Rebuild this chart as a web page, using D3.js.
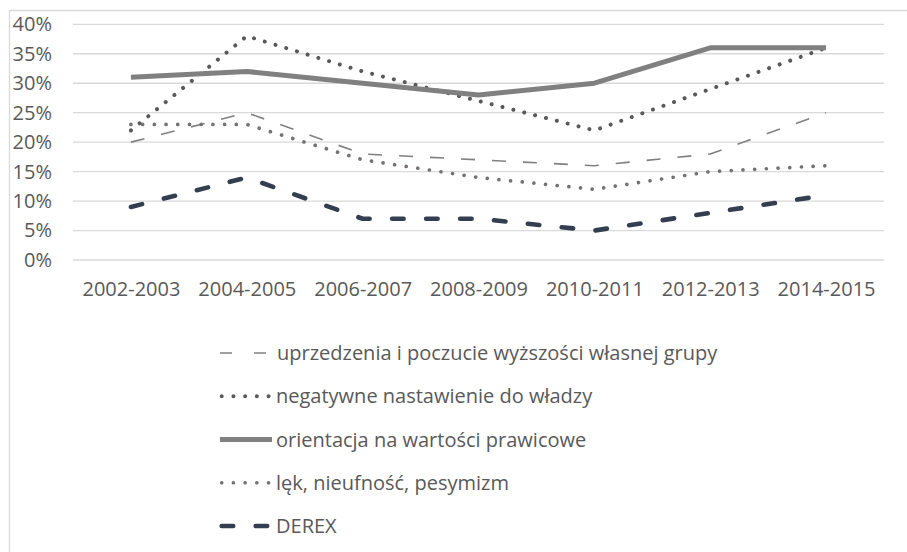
<!DOCTYPE html>
<html>
<head>
<meta charset="utf-8">
<script src="https://cdn.jsdelivr.net/npm/d3@7"></script>
<style>
  body { margin: 0; background: #fff; }
  text { font-family: "Open Sans", sans-serif; fill: #595959; }
</style>
</head>
<body>
<div id="chartdiv"></div>
<script>
var categories = ["2002-2003", "2004-2005", "2006-2007", "2008-2009", "2010-2011", "2012-2013", "2014-2015"];
var uprzedzenia = [20, 25, 18, 17, 16, 18, 25];
var negatywne = [22, 38, 32, 27, 22, 29, 36];
var orientacja = [31, 32, 30, 28, 30, 36, 36];
var lek = [23, 23, 17, 14, 12, 15, 16];
var derex = [9, 14, 7, 7, 5, 8, 11];
var yTicks = [0, 5, 10, 15, 20, 25, 30, 35, 40];

var seriesNames = [
  "uprzedzenia i poczucie wyższości własnej grupy",
  "negatywne nastawienie do władzy",
  "orientacja na wartości prawicowe",
  "lęk, nieufność, pesymizm",
  "DEREX"
];

// line styles per series (plot, legend)
var styles = [
  { color: "#808080", width: 1.6, dash: "14,17", legendDash: "12,22", cap: "butt" },
  { color: "#595959", width: 4, dash: "0.01,11.2", legendDash: "0.01,11.7", cap: "round" },
  { color: "#808080", width: 5, dash: null, legendDash: null, cap: "butt" },
  { color: "#767171", width: 3.7, dash: "0.01,11.7", legendDash: "0.01,11.7", cap: "round" },
  { color: "#333f50", width: 4.6, dash: "11.5,22.5", legendDash: "11.5,22.5", cap: "round" }
];

var allSeries = [uprzedzenia, negatywne, orientacja, lek, derex];

var W = 907, H = 552;
var plot = { left: 73, right: 884, top: 24.3, bottom: 260 };
var fontSize = "20px";

var svg = d3.select("#chartdiv").append("svg")
  .attr("width", W)
  .attr("height", H);

// chart frame (cut off at right and bottom)
svg.append("path")
  .attr("d", "M9.5," + H + "V10.5H" + W)
  .attr("fill", "none")
  .attr("stroke", "#d9d9d9")
  .attr("stroke-width", 1.3);

var x = d3.scalePoint()
  .domain(categories)
  .range([plot.left, plot.right])
  .padding(0.5);

var y = d3.scaleLinear()
  .domain([0, 40])
  .range([plot.bottom, plot.top]);

// gridlines
svg.append("g")
  .selectAll("line")
  .data(yTicks)
  .enter().append("line")
    .attr("x1", plot.left)
    .attr("x2", plot.right)
    .attr("y1", d => y(d))
    .attr("y2", d => y(d))
    .attr("stroke", "#d9d9d9")
    .attr("stroke-width", 1.3);

// y axis
var yAxis = svg.append("g")
  .attr("transform", "translate(" + plot.left + ",0)")
  .call(d3.axisLeft(y).tickValues(yTicks).tickSize(0).tickPadding(21).tickFormat(d => d + "%"));
yAxis.select(".domain").remove();
yAxis.selectAll("text").attr("font-size", fontSize).attr("font-family", null).style("fill", "#595959");

// x axis
var xAxis = svg.append("g")
  .attr("transform", "translate(0," + plot.bottom + ")")
  .call(d3.axisBottom(x).tickSize(0).tickPadding(22));
xAxis.select(".domain").remove();
xAxis.selectAll("text").attr("font-size", fontSize).attr("font-family", null).style("fill", "#595959");

var line = d3.line()
  .x((d, i) => x(categories[i]))
  .y(d => y(d));

allSeries.forEach(function (s, k) {
  var st = styles[k];
  svg.append("path")
    .datum(s)
    .attr("d", line)
    .attr("fill", "none")
    .attr("stroke", st.color)
    .attr("stroke-width", st.width)
    .attr("stroke-linecap", st.cap)
    .attr("stroke-linejoin", "round")
    .attr("stroke-dasharray", st.dash);
});

// legend
var legendY = d3.scaleLinear().domain([0, 4]).range([353, 526]);
var legend = svg.append("g");
seriesNames.forEach(function (name, k) {
  var st = styles[k];
  var ly = legendY(k);
  var x1 = k === 0 ? 220 : (st.cap === "round" ? 221.7 : 220);
  var x2 = k === 0 ? 267 : (st.cap === "round" ? 270 : 272);
  legend.append("line")
    .attr("x1", x1).attr("x2", x2)
    .attr("y1", ly).attr("y2", ly)
    .attr("stroke", st.color)
    .attr("stroke-width", st.width)
    .attr("stroke-linecap", st.cap)
    .attr("stroke-dasharray", st.legendDash);
  legend.append("text")
    .attr("x", k === 0 ? 277 : 276)
    .attr("y", ly)
    .attr("dy", "0.35em")
    .attr("font-size", fontSize)
    .text(name);
});
</script>
</body>
</html>
